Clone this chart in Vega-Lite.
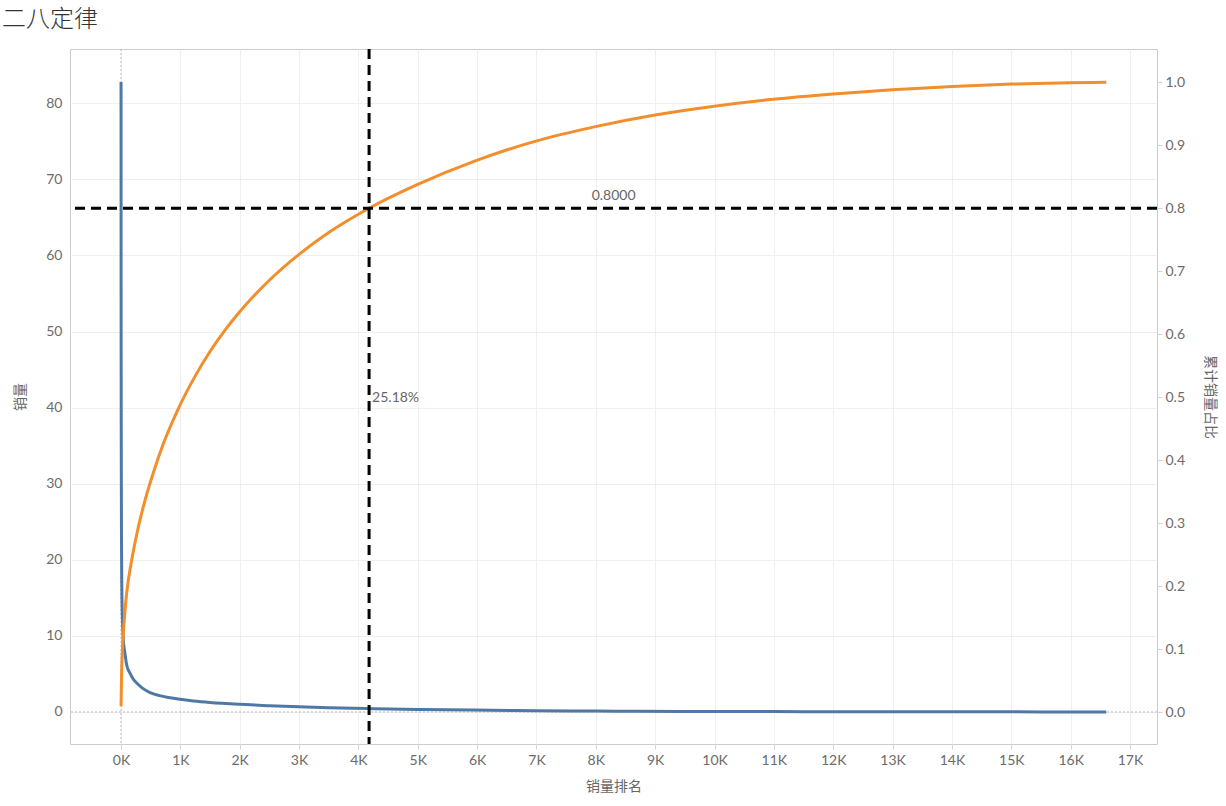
{
  "$schema": "https://vega.github.io/schema/vega-lite/v6.json",
  "autosize": {"type": "none"},
  "padding": {"left": 70, "top": 49, "right": 69, "bottom": 62},
  "width": 1087,
  "height": 695,
  "background": "white",
  "title": {"text": "二八定律", "anchor": "start", "frame": "group", "dx": -68, "offset": 16, "fontSize": 24, "font": "Noto Sans CJK SC", "fontWeight": 300, "color": "#333333"},
  "config": {
    "view": {"stroke": "#cccccc", "strokeWidth": 1},
    "font": "Lato, Noto Sans CJK SC",
    "axis": {"labelFont": "Lato", "labelFontSize": 14, "labelColor": "#6b6b6b", "titleFont": "Noto Sans CJK SC", "titleFontSize": 14, "titleFontWeight": "normal", "titleColor": "#666666", "domain": false, "tickColor": "#d4d4d4", "gridColor": "#efefef", "gridWidth": 1}
  },
  "datasets": {
    "sales": [
      {"rank": 1, "sales": 82.8}, {"rank": 2, "sales": 55}, {"rank": 3, "sales": 45}, {"rank": 4, "sales": 38},
      {"rank": 6, "sales": 30}, {"rank": 9, "sales": 22}, {"rank": 13, "sales": 17}, {"rank": 18, "sales": 14},
      {"rank": 25, "sales": 12}, {"rank": 39, "sales": 9.5}, {"rank": 67, "sales": 7.7}, {"rank": 95, "sales": 6.2},
      {"rank": 152, "sales": 5.1}, {"rank": 200, "sales": 4.4}, {"rank": 265, "sales": 3.8}, {"rank": 350, "sales": 3.2},
      {"rank": 489, "sales": 2.55}, {"rank": 650, "sales": 2.15}, {"rank": 800, "sales": 1.9}, {"rank": 994, "sales": 1.66},
      {"rank": 1219, "sales": 1.45}, {"rank": 1500, "sales": 1.25}, {"rank": 2005, "sales": 1.0}, {"rank": 2500, "sales": 0.82},
      {"rank": 2988, "sales": 0.67}, {"rank": 3500, "sales": 0.56}, {"rank": 4167, "sales": 0.45}, {"rank": 5000, "sales": 0.34},
      {"rank": 5936, "sales": 0.25}, {"rank": 7000, "sales": 0.17}, {"rank": 8000, "sales": 0.12}, {"rank": 8745, "sales": 0.095},
      {"rank": 10000, "sales": 0.065}, {"rank": 11000, "sales": 0.05}, {"rank": 12000, "sales": 0.038}, {"rank": 13000, "sales": 0.028},
      {"rank": 14000, "sales": 0.02}, {"rank": 15000, "sales": 0.014}, {"rank": 16000, "sales": 0.008}, {"rank": 16600, "sales": 0.005}
    ],
    "cum": [
      {"rank": 1, "share": 0.009}, {"rank": 10, "share": 0.06}, {"rank": 20, "share": 0.09}, {"rank": 39, "share": 0.125},
      {"rank": 67, "share": 0.16}, {"rank": 95, "share": 0.188}, {"rank": 180, "share": 0.241}, {"rank": 265, "share": 0.282},
      {"rank": 376, "share": 0.326}, {"rank": 545, "share": 0.38}, {"rank": 713, "share": 0.426}, {"rank": 938, "share": 0.476},
      {"rank": 1247, "share": 0.533}, {"rank": 1500, "share": 0.5725}, {"rank": 1781, "share": 0.61}, {"rank": 2000, "share": 0.6356},
      {"rank": 2500, "share": 0.6856}, {"rank": 3000, "share": 0.7267}, {"rank": 3500, "share": 0.7614}, {"rank": 4180, "share": 0.8},
      {"rank": 4981, "share": 0.837}, {"rank": 5992, "share": 0.876}, {"rank": 7004, "share": 0.907}, {"rank": 8015, "share": 0.93},
      {"rank": 8998, "share": 0.948}, {"rank": 9996, "share": 0.962}, {"rank": 10990, "share": 0.973}, {"rank": 12002, "share": 0.9815},
      {"rank": 12996, "share": 0.9883}, {"rank": 14007, "share": 0.9935}, {"rank": 15008, "share": 0.9972}, {"rank": 15990, "share": 0.9992},
      {"rank": 16600, "share": 1.0}
    ]
  },
  "layer": [
    {
      "layer": [
        {
          "data": {"values": [{"rank": 0}]},
          "mark": {"type": "rule", "color": "#bbbbbb", "strokeDash": [2, 2], "strokeWidth": 1},
          "encoding": {"x": {"field": "rank", "type": "quantitative", "scale": {"domain": [-859, 17455], "nice": false, "zero": false}}}
        },
        {
          "data": {"values": [{"sales": 0}]},
          "mark": {"type": "rule", "color": "#bbbbbb", "strokeDash": [2, 2], "strokeWidth": 1},
          "encoding": {"y": {"field": "sales", "type": "quantitative"}}
        },
        {
          "data": {"name": "sales"},
          "mark": {"type": "line", "color": "#4e79a7", "strokeWidth": 3, "interpolate": "monotone"},
          "encoding": {
            "x": {"field": "rank", "type": "quantitative", "title": "销量排名",
              "scale": {"domain": [-859, 17455], "nice": false, "zero": false},
              "axis": {"values": [0,1000,2000,3000,4000,5000,6000,7000,8000,9000,10000,11000,12000,13000,14000,15000,16000,17000], "labelExpr": "datum.value/1000 + 'K'", "tickSize": 5, "labelPadding": 4, "titlePadding": 12, "grid": true}},
            "y": {"field": "sales", "type": "quantitative", "title": "销量",
              "scale": {"domain": [-4.21, 87.13], "nice": false, "zero": false},
              "axis": {"orient": "left", "values": [0,10,20,30,40,50,60,70,80], "tickSize": 0, "labelPadding": 8, "titlePadding": 18, "grid": true}}
          }
        },
        {
          "data": {"values": [{"rank": 4180, "sales": 41.2, "label": "25.18%"}]},
          "mark": {"type": "text", "align": "left", "baseline": "middle", "dx": 3, "fontSize": 14, "font": "Lato", "color": "#666666"},
          "encoding": {
            "x": {"field": "rank", "type": "quantitative"},
            "y": {"field": "sales", "type": "quantitative"},
            "text": {"field": "label"}
          }
        }
      ]
    },
    {
      "layer": [
        {
          "data": {"name": "cum"},
          "mark": {"type": "line", "color": "#f28e2b", "strokeWidth": 3, "interpolate": "monotone"},
          "encoding": {
            "x": {"field": "rank", "type": "quantitative"},
            "y": {"field": "share", "type": "quantitative", "title": "累计销量占比",
              "scale": {"domain": [-0.0508, 1.0529], "nice": false, "zero": false},
              "axis": {"orient": "right", "values": [0,0.1,0.2,0.3,0.4,0.5,0.6,0.7,0.8,0.9,1.0], "format": ".1f", "tickSize": 5, "labelPadding": 3, "titlePadding": 18, "grid": false}}
          }
        },
        {
          "data": {"values": [{"share": 0.8}]},
          "mark": {"type": "rule", "color": "#000000", "strokeWidth": 3, "strokeDash": [10, 6]},
          "encoding": {"y": {"field": "share", "type": "quantitative"}}
        },
        {
          "data": {"values": [{"rank": 8300, "share": 0.8, "label": "0.8000"}]},
          "mark": {"type": "text", "align": "center", "baseline": "bottom", "dy": -5, "fontSize": 14, "font": "Lato", "color": "#666666"},
          "encoding": {
            "x": {"field": "rank", "type": "quantitative"},
            "y": {"field": "share", "type": "quantitative"},
            "text": {"field": "label"}
          }
        }
      ]
    },
    {
      "data": {"values": [{"rank": 4180}]},
      "mark": {"type": "rule", "color": "#000000", "strokeWidth": 3, "strokeDash": [10, 6]},
      "encoding": {"x": {"field": "rank", "type": "quantitative"}}
    }
  ],
  "resolve": {"scale": {"y": "independent"}}
}
